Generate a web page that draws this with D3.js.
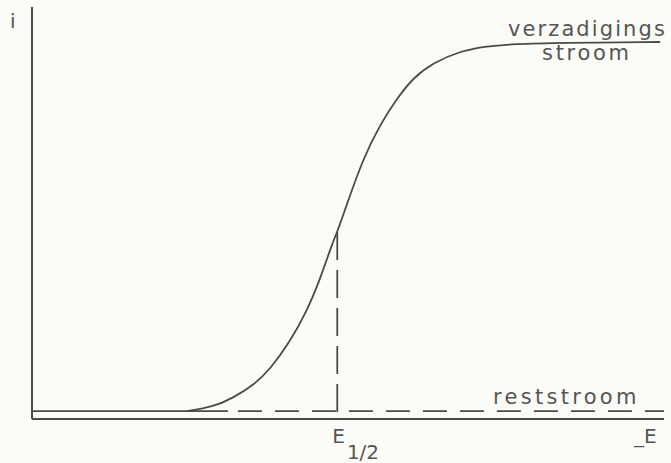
<!DOCTYPE html>
<html>
<head>
<meta charset="utf-8">
<script src="https://cdn.jsdelivr.net/npm/d3@7"></script>
<style>
  html, body { margin: 0; padding: 0; background: #fbfbf8; }
  svg { display: block; }
  text { font-family: "DejaVu Sans", sans-serif; fill: #555; }
</style>
</head>
<body>
<script>
// Polarogram: current i against potential -E (arbitrary units 0..100)
const curveE = [24.5, 28.6, 31.8, 35.1, 37.7, 40.8, 43.5, 45.6, 47.6, 48.3, 49.5, 52.4, 55.1, 57.8, 60.3, 63.4, 67.7, 72.0, 76.1, 83.5, 99.4];
const curveI = [1.9, 2.9, 5.1, 8.25, 12.1, 18.7, 26.2, 34.0, 43.0, 45.4, 50.7, 63.3, 71.5, 77.9, 82.8, 86.4, 89.3, 90.5, 91.0, 91.3, 91.5];

const residualI = 1.9;       // reststroom
const residualStart = 31;    // where the dashed part begins
const halfWaveE = 48.3;      // E 1/2
const halfWaveI = 45.4;

const width = 671, height = 463;

const x = d3.scaleLinear().domain([0, 100]).range([32, 664]);
const y = d3.scaleLinear().domain([0, 100]).range([419, 7]);

const svg = d3.select("body").append("svg")
  .attr("width", width)
  .attr("height", height);

const ink = "#4a4a4a";

// axes
svg.append("line")
  .attr("x1", x(0)).attr("x2", x(0))
  .attr("y1", y(0)).attr("y2", y(100))
  .attr("stroke", ink).attr("stroke-width", 2);
svg.append("line")
  .attr("x1", x(0)).attr("x2", x(100))
  .attr("y1", y(0)).attr("y2", y(0))
  .attr("stroke", ink).attr("stroke-width", 2);

// residual current, dashed
svg.append("line")
  .attr("x1", x(residualStart) + 10).attr("x2", x(100))
  .attr("y1", y(residualI)).attr("y2", y(residualI))
  .attr("stroke", ink).attr("stroke-width", 1.8)
  .attr("stroke-dasharray", "24,13");

// half-wave potential drop line
svg.append("line")
  .attr("x1", x(halfWaveE)).attr("x2", x(halfWaveE))
  .attr("y1", y(halfWaveI)).attr("y2", y(0))
  .attr("stroke", ink).attr("stroke-width", 1.8)
  .attr("stroke-dasharray", "28,10");

// the wave itself (plus the solid start of the residual line)
const pts = curveE.map((e, k) => [e, curveI[k]]);
svg.append("path")
  .datum(pts)
  .attr("fill", "none")
  .attr("stroke", ink).attr("stroke-width", 1.8)
  .attr("d", d3.line().x(d => x(d[0])).y(d => y(d[1])).curve(d3.curveBasis));
svg.append("line")
  .attr("x1", x(0)).attr("x2", x(residualStart))
  .attr("y1", y(residualI)).attr("y2", y(residualI))
  .attr("stroke", ink).attr("stroke-width", 1.8);

// labels
svg.append("text").attr("x", 10).attr("y", 28).attr("font-size", 20).text("i");

svg.append("text").attr("x", 508).attr("y", 36).attr("font-size", 21)
  .attr("letter-spacing", 2.1).text("verzadigings");
svg.append("text").attr("x", 542).attr("y", 60).attr("font-size", 21)
  .attr("letter-spacing", 2.7).text("stroom");

svg.append("text").attr("x", 493).attr("y", 404).attr("font-size", 21)
  .attr("letter-spacing", 3.3).text("reststroom");

const eh = svg.append("text").attr("x", x(halfWaveE) - 5).attr("y", 443).attr("font-size", 20);
eh.append("tspan").text("E");
eh.append("tspan").attr("dx", 2).attr("dy", 16).attr("font-size", 20).text("1/2");

svg.append("text").attr("x", 634).attr("y", 443).attr("font-size", 20).text("_E");
</script>
</body>
</html>
